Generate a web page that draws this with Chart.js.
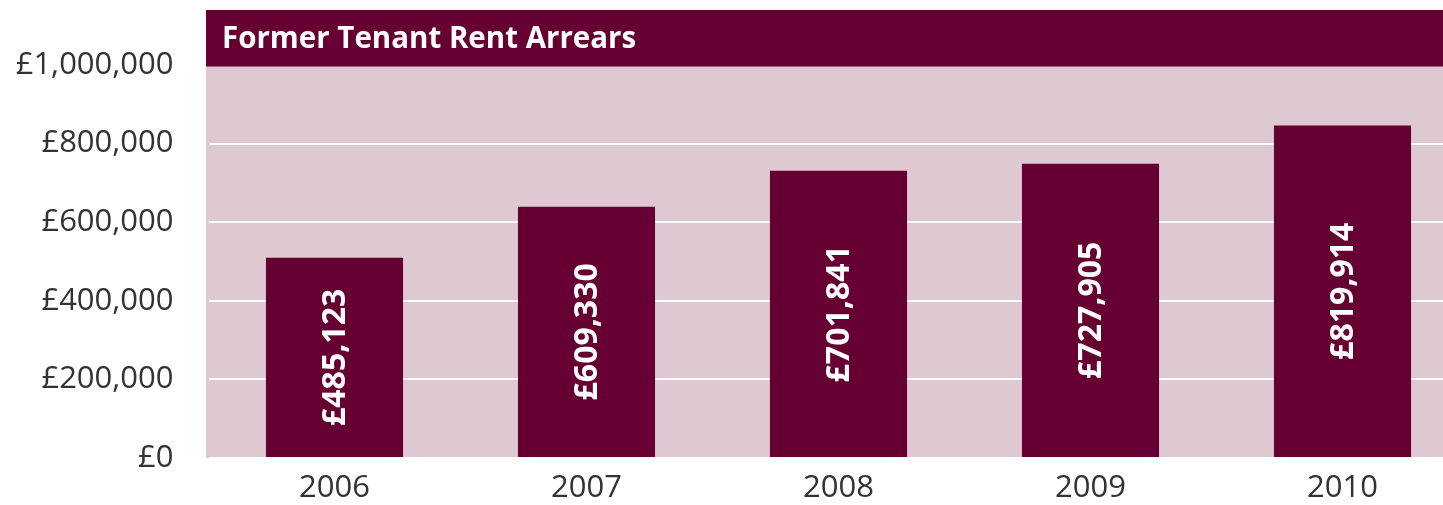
<!DOCTYPE html>
<html>
<head>
<meta charset="utf-8">
<script src="https://cdn.jsdelivr.net/npm/chart.js@4/dist/chart.umd.min.js"></script>
<style>
  html, body { margin: 0; padding: 0; background: #ffffff; overflow: hidden; }
  #wrap { position: relative; width: 1470px; height: 505px; }
</style>
</head>
<body>
<div id="wrap"><canvas id="c" width="1470" height="505"></canvas></div>
<script>
// Data
const years = ['2006', '2007', '2008', '2009', '2010'];
const barValues = [509600, 639500, 731200, 749000, 845900];   // bar heights as drawn
const barLabels = ['£485,123', '£609,330', '£701,841', '£727,905', '£819,914'];
const yTickValues = [0, 200000, 400000, 600000, 800000, 1000000];
const chartTitle = 'Former Tenant Rent Arrears';

const BAR = '#660033';
const BG = '#dec8d1';
const TEXT = '#333333';

const bgPlugin = {
  id: 'bg',
  beforeDraw(chart) {
    const { ctx, chartArea } = chart;
    ctx.save();
    ctx.fillStyle = BG;
    ctx.fillRect(chartArea.left - 2.5, chartArea.top, chart.width - chartArea.left + 2.5, chartArea.bottom - chartArea.top);
    ctx.restore();
  }
};

const overlayPlugin = {
  id: 'overlay',
  afterDatasetsDraw(chart) {
    const { ctx, chartArea, scales } = chart;
    ctx.save();
    const meta = chart.getDatasetMeta(0);
    ctx.fillStyle = '#ffffff';
    ctx.font = 'bold 32px "Open Sans", sans-serif';
    ctx.textAlign = 'center';
    ctx.textBaseline = 'middle';
    meta.data.forEach((bar, i) => {
      const cy = (bar.y + bar.base) / 2;
      ctx.save();
      ctx.translate(bar.x, cy);
      ctx.rotate(-Math.PI / 2);
      ctx.fillText(barLabels[i], 0, 1);
      ctx.restore();
    });
    const yBandBottom = scales.y.getPixelForValue(1000000) + 1.5;
    ctx.fillStyle = BAR;
    ctx.fillRect(chartArea.left - 2.5, chartArea.top, chart.width - chartArea.left + 2.5, yBandBottom - chartArea.top);
    ctx.fillStyle = '#ffffff';
    ctx.font = 'bold 29.5px "Open Sans", sans-serif';
    ctx.textAlign = 'left';
    ctx.textBaseline = 'alphabetic';
    ctx.fillText(chartTitle, chartArea.left + 13.5, chartArea.top + 37.5);
    ctx.restore();
  }
};

new Chart(document.getElementById('c'), {
  type: 'bar',
  data: {
    labels: years,
    datasets: [{
      data: barValues,
      backgroundColor: BAR,
      borderWidth: 0,
      barPercentage: 0.544,
      categoryPercentage: 1.0
    }]
  },
  options: {
    responsive: false,
    animation: false,
    layout: { padding: { top: 10, right: 1.5, left: 0, bottom: 0 } },
    plugins: { legend: { display: false }, tooltip: { enabled: false }, title: { display: false } },
    scales: {
      x: {
        grid: { display: false, drawTicks: false },
        border: { display: false },
        ticks: {
          color: TEXT,
          font: { family: '"Open Sans", sans-serif', size: 31 },
          padding: 12
        },
        afterFit(scale) { scale.height = 47; scale.paddingLeft = 0; scale.paddingRight = 0; }
      },
      y: {
        min: 0,
        max: 1140000,
        afterBuildTicks(scale) {
          scale.ticks = yTickValues.map(v => ({ value: v }));
        },
        grid: { color: '#ffffff', lineWidth: 2, drawTicks: false },
        border: { display: false },
        ticks: {
          color: TEXT,
          font: { family: '"Open Sans", sans-serif', size: 31 },
          padding: 35,
          callback: v => '£' + Number(v).toLocaleString('en-GB')
        },
        afterFit(scale) { scale.width = 208.5; scale.paddingTop = 0; scale.paddingBottom = 0; }
      }
    }
  },
  plugins: [bgPlugin, overlayPlugin]
});
</script>
</body>
</html>
